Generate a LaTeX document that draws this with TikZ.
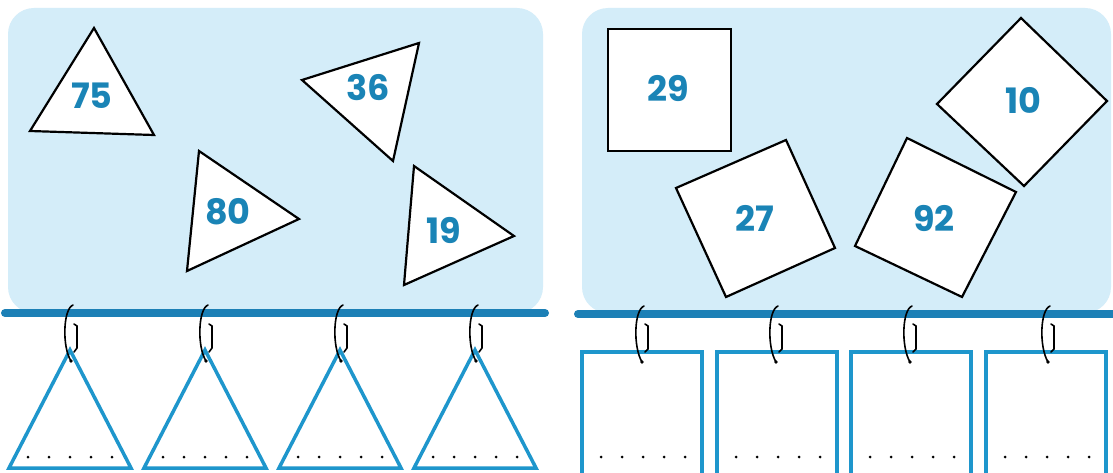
\documentclass[tikz,border=0pt]{standalone}
\usepackage{fontspec}
\setmainfont{Poppins}
\definecolor{panel}{HTML}{D4EDF9}
\definecolor{bar}{HTML}{1C80B6}
\definecolor{num}{HTML}{1A84B6}
\definecolor{tag}{HTML}{1E96CC}
\begin{document}
\begin{tikzpicture}[x=1pt,y=-1pt,
  card/.style={draw=black,fill=white,line width=2.2pt,line join=miter},
  numlabel/.style={text=num,font=\fontsize{35}{35}\selectfont\bfseries,inner sep=0pt},
  rail/.style={draw=bar,line width=8pt,line cap=round},
  tagshape/.style={draw=tag,line width=3.5pt,line join=miter},
  ring/.style={draw=black,line width=1.6pt,line cap=round}]
\useasboundingbox (0,0) rectangle (1113,473);
\fill[white] (0,0) rectangle (1113,473);
% panels
\fill[panel,rounded corners=26pt] (8,313) -- (8,8) -- (543,8) -- (543,313) -- cycle;
\fill[panel,rounded corners=26pt] (582,313) -- (582,8) -- (1111,8) -- (1111,313) -- cycle;
% triangles
\draw[card] (94,28) -- (154,135) -- (30,131) -- cycle;
\node[numlabel] (n75) at (92,96) {75};
\draw[card] (302,80) -- (419,43) -- (393,161) -- cycle;
\node[numlabel] (n36) at (368,88) {36};
\draw[card] (199,151) -- (299,219) -- (187,271) -- cycle;
\node[numlabel] (n80) at (228,212) {80};
\draw[card] (414,166) -- (514,236) -- (404,285) -- cycle;
\node[numlabel] (n19) at (444,230) {19};
% squares
\draw[card] (608,29) rectangle (731,151);
\node[numlabel] (n29) at (668,88) {29};
\draw[card] (676,188) -- (786,140) -- (835,248) -- (726,297) -- cycle;
\node[numlabel] (n27) at (755,218) {27};
\draw[card] (907,138) -- (1016,192) -- (962,297) -- (855,246) -- cycle;
\node[numlabel] (n92) at (934,218) {92};
\draw[card] (1021,18) -- (1107,101) -- (1024,186) -- (937,104) -- cycle;
\node[numlabel] (n10) at (1023,100) {10};
% rails
\draw[rail] (5,313) -- (545,313);
\draw[rail] (578,314) -- (1120,314);
% hanging triangles
\foreach \x in {70,205,340,475}{
  \draw[tagshape] (\x,350) -- (\x+61,468) -- (\x-61,468) -- cycle;
  \foreach \i in {0,...,4}{\fill (\x-42+21*\i,457) circle (1.5pt);}
  \draw[ring] (\x+3,305) .. controls (\x-7,309) and (\x-8,347) .. (\x+1,361);
  \fill (\x+1,361) circle (1.8pt);
  \draw[ring] (\x+4,324) -- (\x+7,326) -- (\x+7,348) -- (\x+4,352);
}
% hanging rectangles
\foreach \l/\h in {582/641,717/775,851/909,986/1047}{
  \draw[tagshape] (\l,480) -- (\l,352) -- (\l+120,352) -- (\l+120,480);
  \foreach \i in {0,...,4}{\fill (\l+19+21*\i,457) circle (1.5pt);}
  \draw[ring] (\h+3,306) .. controls (\h-7,310) and (\h-8,347) .. (\h+1,362);
  \fill (\h+1,362) circle (1.8pt);
  \draw[ring] (\h+4,324) -- (\h+7,326) -- (\h+7,349) -- (\h+4,352);
}
\end{tikzpicture}
\end{document}
